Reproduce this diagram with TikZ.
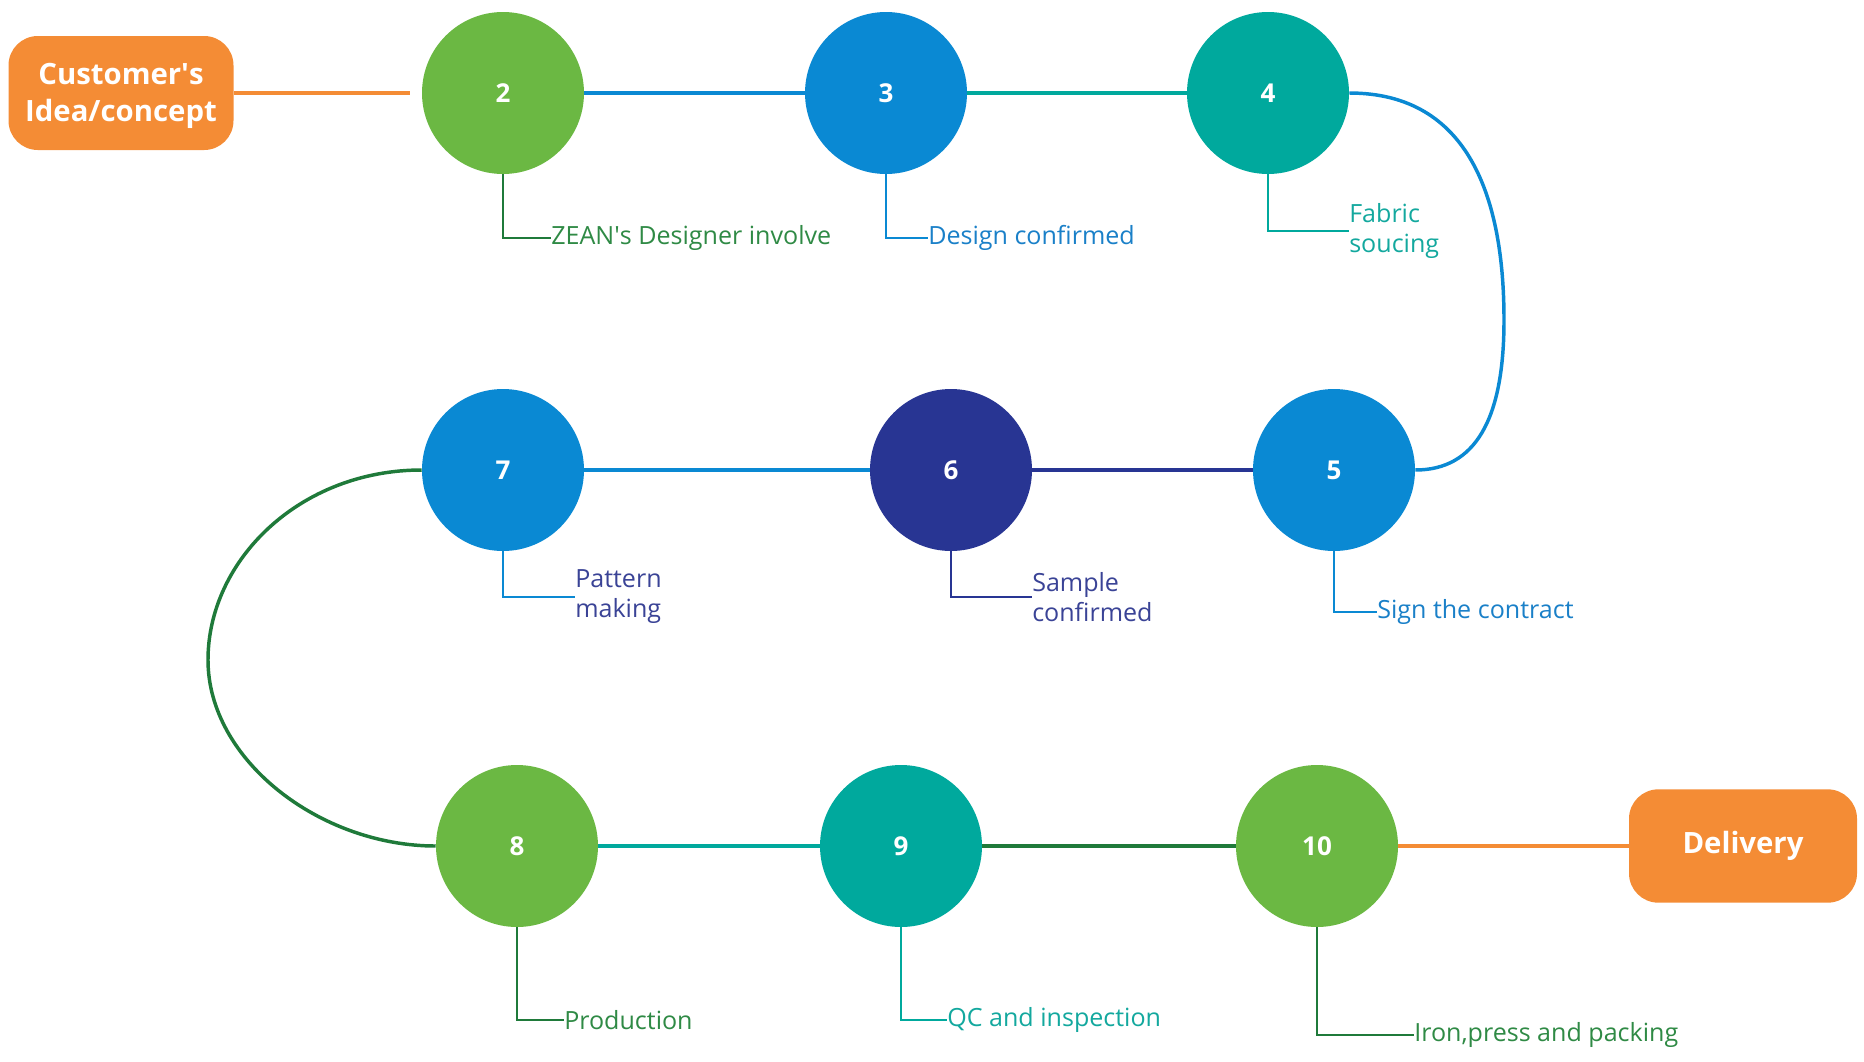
\documentclass[tikz,border=0pt]{standalone}
\usepackage{fontspec}
\setmainfont{Open Sans}
\definecolor{cgreen}{HTML}{6BB843}
\definecolor{cblue}{HTML}{0A89D3}
\definecolor{cteal}{HTML}{00A99D}
\definecolor{cnavy}{HTML}{283593}
\definecolor{corange}{HTML}{F48C35}
\definecolor{cdkgreen}{HTML}{1F7A3A}
\definecolor{tgreen}{HTML}{2F8A45}
\definecolor{tblue}{HTML}{1A80C8}
\definecolor{tteal}{HTML}{13A89E}
\definecolor{tnavy}{HTML}{3A4396}
\tikzset{
  stepcirc/.style={circle, fill=#1, draw=none, minimum size=121.5pt, inner sep=0pt,
    text=white, font=\fontsize{19.5}{22}\selectfont\bfseries},
  endbox/.style={rounded corners=22pt, fill=corange, draw=none, text=white,
    font=\fontsize{22}{27.5}\selectfont\bfseries, align=center, inner sep=0pt},
  conn/.style={draw=#1, line width=2.6pt},
  lbline/.style={draw=#1, line width=2pt},
  lbtext/.style={anchor=west, text=#1, font=\fontsize{18.8}{22.5}\selectfont, align=left, inner sep=0pt}
}
\begin{document}
\begin{tikzpicture}[x=0.75pt,y=-0.75pt]
\useasboundingbox (0,0) rectangle (1864,1061);
% boxes
\node[endbox, minimum width=168.75pt, minimum height=85.5pt] (cust) at (121,93) {\rule{0pt}{20pt}Customer\textquotesingle s\\Idea/concept};
\node[endbox, minimum width=171pt, minimum height=85pt] (deliv) at (1743,846) {Delivery};
% circles
\node[stepcirc=cgreen] (c2) at (503,93) {2};
\node[stepcirc=cblue] (c3) at (886,93) {3};
\node[stepcirc=cteal] (c4) at (1268,93) {4};
\node[stepcirc=cblue] (c5) at (1334,470) {5};
\node[stepcirc=cnavy] (c6) at (951,470) {6};
\node[stepcirc=cblue] (c7) at (503,470) {7};
\node[stepcirc=cgreen] (c8) at (517,846) {8};
\node[stepcirc=cteal] (c9) at (901,846) {9};
\node[stepcirc=cgreen] (c10) at (1317,846) {10};
% connectors
\draw[conn=corange, shorten >=9pt] (cust.east) -- (c2.west);
\draw[conn=cblue] (c2.east) -- (c3.west);
\draw[conn=cteal] (c3.east) -- (c4.west);
\coordinate (r45) at (1504,320);
\draw[conn=cblue] (c4.east) .. controls (1470,93) and (1504,200) .. (r45)
   .. controls (1504,420) and (1475,470) .. (c5.east);
\draw[conn=cnavy] (c5.west) -- (c6.east);
\draw[conn=cblue] (c6.west) -- (c7.east);
\coordinate (l78) at (208,660);
\draw[conn=cdkgreen] (c7.west) .. controls (300,470) and (208,560) .. (l78)
   .. controls (208,760) and (320,846) .. (c8.west);
\draw[conn=cteal] (c8.east) -- (c9.west);
\draw[conn=cdkgreen] (c9.east) -- (c10.west);
\draw[conn=corange] (c10.east) -- (deliv.west);
% labels
\node[lbtext=tgreen] (t2) at (551,238) {ZEAN\textquotesingle s Designer involve};
\draw[lbline=cdkgreen] (c2.south) |- (t2.west);
\node[lbtext=tblue] (t3) at (928,238) {Design confirmed};
\draw[lbline=cblue] (c3.south) |- (t3.west);
\node[lbtext=tteal] (t4) at (1349,231) {Fabric\\soucing};
\draw[lbline=cteal] (c4.south) |- (t4.west);
\node[lbtext=tblue] (t5) at (1377,612) {Sign the contract};
\draw[lbline=cblue] (c5.south) |- (t5.west);
\node[lbtext=tnavy] (t6) at (1032,597) {Sample\\confirmed};
\draw[lbline=cnavy] (c6.south) |- (t6.west);
\node[lbtext=tnavy] (t7) at (575,597) {Pattern\\making};
\draw[lbline=cblue] (c7.south) |- (t7.west);
\node[lbtext=tgreen] (t8) at (564,1020) {Production};
\draw[lbline=cdkgreen] (c8.south) |- (t8.west);
\node[lbtext=tteal] (t9) at (947,1020) {QC and inspection};
\draw[lbline=cteal] (c9.south) |- (t9.west);
\node[lbtext=tgreen] (t10) at (1414,1035) {Iron,press and packing};
\draw[lbline=cdkgreen] (c10.south) |- (t10.west);
\end{tikzpicture}
\end{document}
